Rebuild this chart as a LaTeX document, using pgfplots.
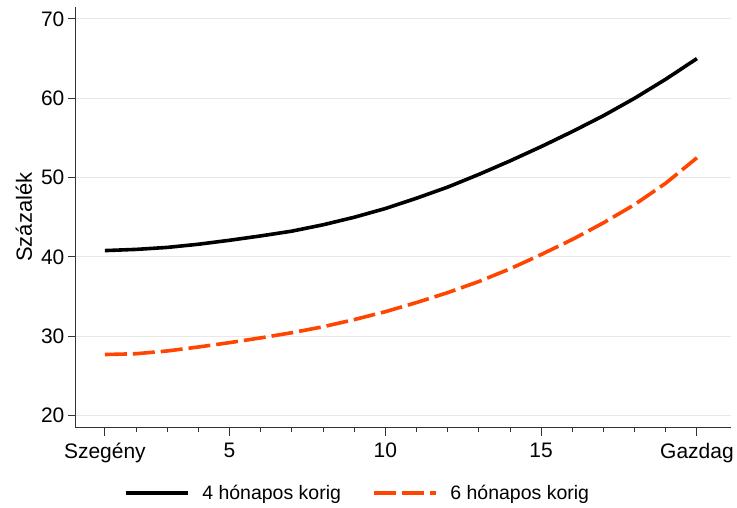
\documentclass[border=0pt]{standalone}
\usepackage{pgfplots}
\pgfplotsset{compat=1.18}
\usepackage{fontspec}
\setmainfont{Liberation Sans}
\definecolor{myred}{RGB}{255,69,0}
\definecolor{gridgray}{RGB}{232,232,232}
\begin{document}
\begin{tikzpicture}
\begin{axis}[
  name=ax,
  scale only axis,
  width=656pt, height=421pt,
  xmin=0.07, xmax=21.1,
  ymin=18.5, ymax=71.5,
  axis x line*=bottom, axis y line*=left,
  axis line style={black!80, line width=0.9pt},
  xtick={1,5,10,15,20},
  xticklabels={Szegény,5,10,15,Gazdag},
  minor xtick={2,3,4,6,7,8,9,11,12,13,14,16,17,18,19},
  ytick={20,30,40,50,60,70},
  tick align=outside,
  major tick length=8pt, minor tick length=4pt,
  tick style={black!80, line width=0.9pt},
  ymajorgrids, grid style={gridgray, line width=0.9pt},
  /pgf/number format/assume math mode=true,
  ticklabel style={font=\fontsize{21}{24}\selectfont},
  xticklabel style={yshift=-4pt},
  ylabel={Százalék},
  ylabel style={font=\fontsize{22}{25}\selectfont},
  ylabel shift=2pt,
  legend style={at={(0.438,-0.127)}, anchor=north, draw=none, fill=none,
    font=\fontsize{19.5}{22}\selectfont, legend columns=2,
    /tikz/every even column/.append style={column sep=18pt},
    nodes={inner xsep=13pt}},
  legend image code/.code={\draw[#1] (0pt,0pt) -- (62pt,0pt);},
]
\addplot[black, line width=3.6pt, line join=round] coordinates {
(1,40.8) (2,40.95) (3,41.2) (4,41.6) (5,42.1) (6,42.65) (7,43.25) (8,44.05) (9,45.0) (10,46.1)
(11,47.4) (12,48.8) (13,50.4) (14,52.1) (15,53.9) (16,55.8) (17,57.8) (18,60.0) (19,62.4) (20,65.0)};
\addlegendentry{4 hónapos korig}
\addplot[myred, line width=3.6pt, line join=round, dash pattern=on 22pt off 6pt] coordinates {
(1,27.7) (2,27.8) (3,28.15) (4,28.65) (5,29.2) (6,29.8) (7,30.45) (8,31.2) (9,32.1) (10,33.1)
(11,34.25) (12,35.5) (13,36.9) (14,38.5) (15,40.3) (16,42.2) (17,44.3) (18,46.6) (19,49.3) (20,52.5)};
\addlegendentry{6 hónapos korig}
\end{axis}
\path (ax.south west) ++(-76pt,-80pt);
\path (ax.north east) ++(5pt,7pt);
\end{tikzpicture}
\end{document}
